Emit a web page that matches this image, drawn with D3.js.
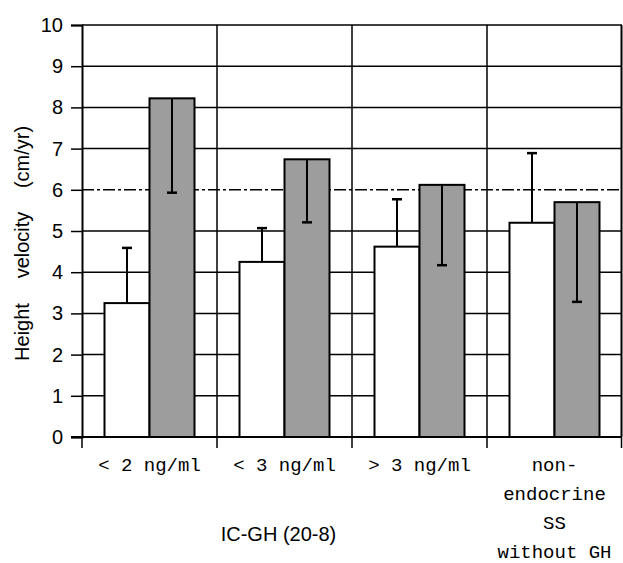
<!DOCTYPE html>
<html><head><meta charset="utf-8">
<script src="https://cdn.jsdelivr.net/npm/d3@7"></script>
<style>body{margin:0;background:#fff} svg{display:block}</style>
</head><body><svg id="c" width="623" height="563"></svg>
<script>
// ---- data ----
const categories = ["< 2 ng/ml", "< 3 ng/ml", "> 3 ng/ml", "non-endocrine SS without GH"];
const categoryLines = [["< 2 ng/ml"], ["< 3 ng/ml"], ["> 3 ng/ml"], ["non-", "endocrine", "SS", "without GH"]];
const series = ["before", "during"];
const beforeValues = [3.25, 4.25, 4.62, 5.20];
const beforeSD = [1.34, 0.82, 1.15, 1.69];
const duringValues = [8.22, 6.74, 6.12, 5.70];
const duringSD = [2.29, 1.53, 1.95, 2.42];
const yTicks = [0, 1, 2, 3, 4, 5, 6, 7, 8, 9, 10];
const groupLabel = "IC-GH (20-8)";
const groupLabelSpan = [0, 2];
const yLabelWords = ["Height", "velocity", "(cm/yr)"];

// ---- layout ----
const W = 623, H = 563;
const m = {top: 25, right: 1, bottom: 126, left: 82};
const svg = d3.select("#c");

const x = d3.scaleBand().domain(categories).range([m.left, W - m.right]).padding(0);
const xs = d3.scaleBand().domain(series).range([0, x.bandwidth()]).paddingInner(0).paddingOuter(0.5);
const y = d3.scaleLinear().domain([0, 10]).range([H - m.bottom, m.top]);

const data = categories.map((c, i) => ({
  cat: c,
  bars: [
    {s: "before", v: beforeValues[i], sd: beforeSD[i], dir: 1},
    {s: "during", v: duringValues[i], sd: duringSD[i], dir: -1}
  ]
}));

// gridlines
const grid = svg.append("g");
grid.selectAll("line.h").data(yTicks).join("line")
  .attr("x1", m.left).attr("x2", W - m.right)
  .attr("y1", d => y(d)).attr("y2", d => y(d))
  .attr("stroke", "#000").attr("stroke-width", 1.5)
  .attr("stroke-dasharray", d => d === 6 ? "12,3,3,3" : null);
grid.selectAll("line.v").data(categories.slice(1)).join("line")
  .attr("x1", d => x(d)).attr("x2", d => x(d))
  .attr("y1", y(0)).attr("y2", y(10))
  .attr("stroke", "#000").attr("stroke-width", 1.5);
// right border
svg.append("line").attr("x1", W - m.right - 0.5).attr("x2", W - m.right - 0.5)
  .attr("y1", y(0)).attr("y2", y(10)).attr("stroke", "#000").attr("stroke-width", 2);

// bars
const g = svg.append("g").selectAll("g").data(data).join("g")
  .attr("transform", d => `translate(${x(d.cat)},0)`);
g.selectAll("rect").data(d => d.bars).join("rect")
  .attr("x", d => xs(d.s)).attr("width", xs.bandwidth())
  .attr("y", d => y(d.v)).attr("height", d => y(0) - y(d.v))
  .attr("fill", d => d.s === "before" ? "#fff" : "#9d9d9d")
  .attr("stroke", "#000").attr("stroke-width", 2);

// error bars
const eb = g.selectAll("g.eb").data(d => d.bars).join("g");
eb.append("line")
  .attr("x1", d => xs(d.s) + xs.bandwidth() / 2).attr("x2", d => xs(d.s) + xs.bandwidth() / 2)
  .attr("y1", d => y(d.v)).attr("y2", d => y(d.v + d.dir * d.sd))
  .attr("stroke", "#000").attr("stroke-width", 2);
eb.append("line")
  .attr("x1", d => xs(d.s) + xs.bandwidth() / 2 - 5).attr("x2", d => xs(d.s) + xs.bandwidth() / 2 + 5)
  .attr("y1", d => y(d.v + d.dir * d.sd)).attr("y2", d => y(d.v + d.dir * d.sd))
  .attr("stroke", "#000").attr("stroke-width", 2.5);

// y axis
const ya = svg.append("g").attr("transform", `translate(${m.left},0)`)
  .call(d3.axisLeft(y).tickValues(yTicks).tickSize(11).tickPadding(8).tickFormat(d3.format("d")));
ya.select(".domain").attr("stroke-width", 2);
ya.selectAll(".tick line").attr("stroke-width", 1.5);
ya.selectAll("text").attr("font-family", "'Liberation Sans Narrow', 'Arial Narrow', 'Liberation Sans', sans-serif")
  .attr("font-size", 20).attr("fill", "#000");

// x axis (ticks at group boundaries)
const bounds = categories.map(c => x(c)).concat([x.range()[1] - 0.5]);
const xa = svg.append("g");
xa.append("line").attr("x1", m.left - 11).attr("x2", W - m.right).attr("y1", y(0)).attr("y2", y(0))
  .attr("stroke", "#000").attr("stroke-width", 2);
xa.selectAll("line.t").data(bounds).join("line")
  .attr("x1", d => d).attr("x2", d => d).attr("y1", y(0)).attr("y2", y(0) + 11)
  .attr("stroke", "#000").attr("stroke-width", 1.5);

// category labels
const cl = svg.append("g").selectAll("text").data(categories).join("text")
  .attr("x", d => x(d) + x.bandwidth() / 2)
  .attr("y", 471)
  .attr("text-anchor", "middle")
  .attr("font-family", "'Liberation Mono', 'DejaVu Sans Mono', monospace")
  .attr("font-size", 19).attr("fill", "#000");
cl.selectAll("tspan").data((d, i) => categoryLines[i]).join("tspan")
  .attr("x", function() { return d3.select(this.parentNode).attr("x"); })
  .attr("dy", (d, j) => j === 0 ? 0 : 29)
  .text(d => d);

// group label
svg.append("text")
  .attr("x", (x(categories[groupLabelSpan[0]]) + x(categories[groupLabelSpan[1]]) + x.bandwidth()) / 2 - 6)
  .attr("y", 541).attr("text-anchor", "middle")
  .attr("font-family", "'Liberation Sans', Arial, sans-serif").attr("font-size", 20).attr("fill", "#000")
  .text(groupLabel);

// y label
const yWordCenters = [332, 245, 157];
svg.append("g").selectAll("text").data(yLabelWords).join("text")
  .attr("transform", (d, i) => `translate(29,${yWordCenters[i]}) rotate(-90)`)
  .attr("text-anchor", "middle")
  .attr("font-family", "'Liberation Sans', Arial, sans-serif").attr("font-size", 20).attr("fill", "#000")
  .text(d => d);
</script></body></html>
